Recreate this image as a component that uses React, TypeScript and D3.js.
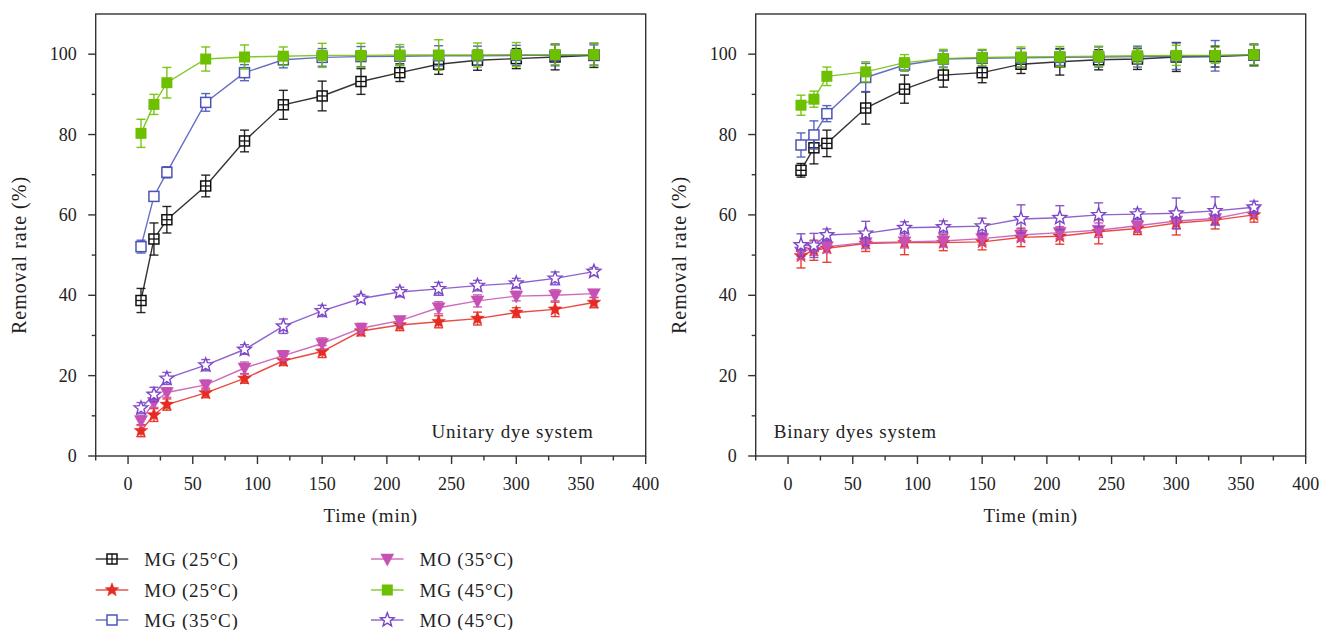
import React from "react";
import * as d3 from "d3";

// ---------- DATA ----------
const times = [10, 20, 30, 60, 90, 120, 150, 180, 210, 240, 270, 300, 330, 360];

const seriesNames = ["MG (25°C)", "MO (25°C)", "MG (35°C)", "MO (35°C)", "MG (45°C)", "MO (45°C)"];

// Unitary dye system
const uMG25 = [38.7, 54.0, 58.8, 67.2, 78.4, 87.4, 89.6, 93.2, 95.4, 97.5, 98.5, 98.9, 99.3, 99.7];
const uMG25err = [3.0, 4.0, 3.3, 2.7, 2.7, 3.6, 3.7, 3.2, 2.2, 2.5, 2.5, 2.5, 3.2, 3.0];
const uMO25 = [6.3, 10.2, 12.8, 15.7, 19.3, 23.7, 26.0, 31.1, 32.6, 33.4, 34.2, 35.7, 36.5, 38.2];
const uMO25err = [1.5, 1.6, 1.4, 1.2, 1.2, 1.2, 1.5, 1.2, 1.4, 1.5, 1.6, 1.2, 1.8, 1.3];
const uMG35 = [52.1, 64.6, 70.6, 88.0, 95.4, 98.6, 99.2, 99.4, 99.5, 99.6, 99.6, 99.7, 99.7, 99.8];
const uMG35err = [1.6, 1.2, 1.4, 2.2, 2.0, 2.0, 2.2, 2.5, 2.3, 2.5, 2.4, 2.5, 2.6, 2.5];
const uMO35 = [8.8, 13.3, 15.8, 17.7, 21.9, 25.0, 28.0, 31.8, 33.7, 36.9, 38.6, 39.8, 40.0, 40.4];
const uMO35err = [1.2, 1.2, 1.2, 1.2, 1.5, 1.2, 1.4, 1.2, 1.0, 1.5, 1.5, 1.2, 1.4, 1.0];
const uMG45 = [80.3, 87.5, 92.9, 98.8, 99.3, 99.5, 99.7, 99.7, 99.8, 99.8, 99.8, 99.9, 99.9, 99.9];
const uMG45err = [3.5, 2.5, 3.8, 3.0, 3.0, 2.3, 3.0, 3.0, 2.6, 3.8, 3.0, 3.0, 2.5, 2.8];
const uMO45 = [11.9, 15.3, 19.3, 22.6, 26.5, 32.3, 36.1, 39.2, 40.8, 41.6, 42.4, 43.0, 44.2, 45.9];
const uMO45err = [1.4, 1.8, 1.5, 1.4, 1.2, 1.8, 1.4, 1.0, 1.2, 1.6, 1.3, 1.2, 1.6, 1.0];

// Binary dyes system
const bMG25 = [71.1, 76.7, 77.8, 86.6, 91.3, 94.8, 95.4, 97.5, 98.1, 98.6, 98.8, 99.3, 99.4, 99.8];
const bMG25err = [1.7, 4.0, 3.3, 4.0, 3.5, 3.0, 2.5, 2.3, 3.3, 2.5, 2.6, 3.6, 2.6, 2.7];
const bMO25 = [49.8, 51.2, 51.7, 52.9, 53.1, 53.1, 53.3, 54.4, 54.7, 55.8, 56.6, 58.0, 58.7, 60.0];
const bMO25err = [3.0, 2.5, 3.5, 2.0, 3.0, 2.0, 2.0, 2.3, 2.0, 3.0, 1.5, 3.0, 2.2, 1.8];
const bMG35 = [77.4, 79.9, 85.2, 94.2, 97.3, 98.8, 99.0, 99.1, 99.2, 99.3, 99.4, 99.5, 99.6, 99.8];
const bMG35err = [3.0, 3.5, 2.0, 3.5, 1.5, 2.0, 2.0, 2.3, 2.0, 2.5, 2.6, 3.3, 3.8, 2.5];
const bMO35 = [50.8, 51.7, 52.1, 53.1, 53.3, 53.5, 54.1, 55.0, 55.6, 56.2, 57.3, 58.5, 59.1, 61.0];
const bMO35err = [1.8, 1.8, 1.5, 1.5, 1.5, 1.5, 1.5, 1.5, 1.5, 1.8, 1.5, 2.0, 1.5, 1.5];
const bMG45 = [87.3, 88.8, 94.5, 95.6, 97.9, 98.9, 99.2, 99.3, 99.4, 99.5, 99.6, 99.7, 99.7, 99.9];
const bMG45err = [2.5, 2.0, 2.3, 2.5, 2.0, 2.3, 2.0, 2.5, 2.5, 2.5, 2.0, 2.5, 2.0, 2.5];
const bMO45 = [52.5, 52.4, 55.0, 55.4, 56.8, 57.0, 57.2, 59.0, 59.3, 60.0, 60.2, 60.4, 61.0, 61.9];
const bMO45err = [2.8, 3.0, 1.5, 3.0, 1.5, 1.5, 2.0, 3.5, 3.0, 3.0, 1.3, 3.8, 3.5, 1.5];

const xTicksMajor = [0, 50, 100, 150, 200, 250, 300, 350, 400];
const yTicksMajor = [0, 20, 40, 60, 80, 100];

// ---------- STYLE ----------
const colors = ["#111111", "#e52b22", "#4b55b8", "#c650b3", "#6cc000", "#7c46c6"];
const markers = ["squareCross", "starFilled", "squareOpen", "triDown", "squareFilled", "starOpen"];
const FONT = "'Liberation Serif', 'Times New Roman', serif";

function starPath(r: number, ri: number) {
  const pts: string[] = [];
  for (let i = 0; i < 10; i++) {
    const a = -Math.PI / 2 + (i * Math.PI) / 5;
    const rr = i % 2 === 0 ? r : ri;
    pts.push(`${(rr * Math.cos(a)).toFixed(2)},${(rr * Math.sin(a)).toFixed(2)}`);
  }
  return "M" + pts.join("L") + "Z";
}

function Marker({ type, color, x, y }: { type: string; color: string; x: number; y: number }) {
  const s = 5;
  switch (type) {
    case "squareCross":
      return (
        <g transform={`translate(${x},${y})`}>
          <rect x={-s} y={-s} width={2 * s} height={2 * s} fill="#fff" stroke={color} strokeWidth={1.5} />
          <line x1={-s} x2={s} y1={0} y2={0} stroke={color} strokeWidth={1.3} />
          <line x1={0} x2={0} y1={-s} y2={s} stroke={color} strokeWidth={1.3} />
        </g>
      );
    case "squareOpen":
      return (
        <rect x={x - s} y={y - s} width={2 * s} height={2 * s} fill="#fff" stroke={color} strokeWidth={1.5} />
      );
    case "squareFilled":
      return <rect x={x - s - 0.5} y={y - s - 0.5} width={2 * s + 1} height={2 * s + 1} fill={color} />;
    case "starFilled":
      return <path transform={`translate(${x},${y})`} d={starPath(7.2, 3.1)} fill={color} stroke={color} strokeWidth={0.5} />;
    case "starOpen":
      return <path transform={`translate(${x},${y})`} d={starPath(7.2, 3.1)} fill="#fff" stroke={color} strokeWidth={1.4} />;
    case "triDown":
      return (
        <path
          transform={`translate(${x},${y})`}
          d={`M${-6.5},${-5}L${6.5},${-5}L0,${7}Z`}
          fill={color}
          stroke={color}
          strokeWidth={0.5}
        />
      );
    default:
      return null;
  }
}

const W = 1321;
const H = 630;
const panelLeft = [95.7, 755.7];
const panelWidth = 550;
const plotTop = 14;
const plotBottom = 456;

function Panel({
  left,
  values,
  errors,
  label,
  labelAnchor,
}: {
  left: number;
  values: number[][];
  errors: number[][];
  label: string;
  labelAnchor: "start" | "end";
}) {
  const x = d3.scaleLinear().domain([-25, 400]).range([left, left + panelWidth]);
  const y = d3.scaleLinear().domain([0, 110]).range([plotBottom, plotTop]);
  const xMinor = d3.range(-25, 400, 50);
  const yMinor = d3.range(10, 110, 20);
  const line = d3
    .line<number>()
    .x((_, i) => x(times[i]))
    .y((d) => y(d));
  const axisColor = "#333";
  const cap = 4.5;
  return (
    <g>
      {/* frame */}
      <rect x={left} y={plotTop} width={panelWidth} height={plotBottom - plotTop} fill="none" stroke={axisColor} strokeWidth={1.4} />
      {/* x ticks */}
      {xTicksMajor.map((t) => (
        <g key={"xm" + t}>
          <line x1={x(t)} x2={x(t)} y1={plotBottom} y2={plotBottom + 8} stroke={axisColor} strokeWidth={1.4} />
          <text x={x(t)} y={490} textAnchor="middle" fontSize={18} fontFamily={FONT} fill="#222">
            {t}
          </text>
        </g>
      ))}
      {xMinor.map((t) => (
        <line key={"xn" + t} x1={x(t)} x2={x(t)} y1={plotBottom} y2={plotBottom + 4.5} stroke={axisColor} strokeWidth={1.4} />
      ))}
      {/* y ticks */}
      {yTicksMajor.map((t) => (
        <g key={"ym" + t}>
          <line x1={left - 7.5} x2={left} y1={y(t)} y2={y(t)} stroke={axisColor} strokeWidth={1.4} />
          <text x={left - 19} y={y(t) + 6} textAnchor="end" fontSize={18} fontFamily={FONT} fill="#222">
            {t}
          </text>
        </g>
      ))}
      {yMinor.map((t) => (
        <line key={"yn" + t} x1={left - 4} x2={left} y1={y(t)} y2={y(t)} stroke={axisColor} strokeWidth={1.4} />
      ))}
      {/* axis titles */}
      <text x={left + panelWidth / 2} y={522} textAnchor="middle" fontSize={19} letterSpacing={0.8} fontFamily={FONT} fill="#222">
        Time (min)
      </text>
      <text
        transform={`translate(${left - 70},${(plotTop + plotBottom) / 2 + 20}) rotate(-90)`}
        textAnchor="middle"
        fontSize={20}
        letterSpacing={1}
        fontFamily={FONT}
        fill="#222"
      >
        Removal rate (%)
      </text>
      {/* annotation */}
      <text
        x={labelAnchor === "end" ? left + 498 : left + 18}
        y={438}
        textAnchor={labelAnchor}
        fontSize={19}
        letterSpacing={0.8}
        fontFamily={FONT}
        fill="#222"
      >
        {label}
      </text>
      {/* series */}
      {values.map((vals, si) => (
        <g key={"s" + si}>
          <path d={line(vals) || ""} fill="none" stroke={colors[si]} strokeOpacity={0.85} strokeWidth={1.4} />
          {vals.map((v, i) => {
            const e = errors[si][i];
            const cx = x(times[i]);
            return (
              <g key={"e" + i} stroke={colors[si]} strokeWidth={1.4} strokeOpacity={0.9}>
                <line x1={cx} x2={cx} y1={y(v - e)} y2={y(v + e)} />
                <line x1={cx - cap} x2={cx + cap} y1={y(v - e)} y2={y(v - e)} />
                <line x1={cx - cap} x2={cx + cap} y1={y(v + e)} y2={y(v + e)} />
              </g>
            );
          })}
          {vals.map((v, i) => (
            <Marker key={"m" + i} type={markers[si]} color={colors[si]} x={x(times[i])} y={y(v)} />
          ))}
        </g>
      ))}
    </g>
  );
}

export default function App() {
  const unitaryValues = [uMG25, uMO25, uMG35, uMO35, uMG45, uMO45];
  const unitaryErrors = [uMG25err, uMO25err, uMG35err, uMO35err, uMG45err, uMO45err];
  const binaryValues = [bMG25, bMO25, bMG35, bMO35, bMG45, bMO45];
  const binaryErrors = [bMG25err, bMO25err, bMG35err, bMO35err, bMG45err, bMO45err];

  const legendCols = [95.7, 371];
  const legendRows = [559, 590, 620];

  return (
    <svg width={W} height={H} style={{ position: "absolute", left: 0, top: 0, background: "#fff" }}>
      <rect width={W} height={H} fill="#fff" />
      <Panel left={panelLeft[0]} values={unitaryValues} errors={unitaryErrors} label="Unitary dye system" labelAnchor="end" />
      <Panel left={panelLeft[1]} values={binaryValues} errors={binaryErrors} label="Binary dyes system" labelAnchor="start" />
      {/* legend */}
      {seriesNames.map((name, i) => {
        const col = Math.floor(i / 3);
        const row = i % 3;
        const lx = legendCols[col];
        const ly = legendRows[row];
        return (
          <g key={"lg" + i}>
            <line x1={lx} x2={lx + 32.6} y1={ly} y2={ly} stroke={colors[i]} strokeOpacity={0.8} strokeWidth={1.5} />
            <Marker type={markers[i]} color={colors[i]} x={lx + 16.3} y={ly} />
            <text x={lx + 48.5} y={ly + 6.5} fontSize={19} letterSpacing={0.8} fontFamily={FONT} fill="#222">
              {name}
            </text>
          </g>
        );
      })}
    </svg>
  );
}
